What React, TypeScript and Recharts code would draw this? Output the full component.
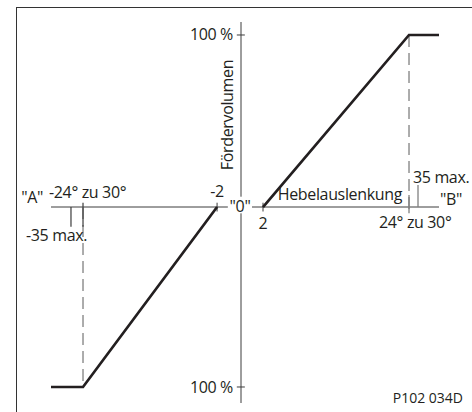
import React from "react";
import { LineChart, Line, XAxis, YAxis, ReferenceLine, ReferenceDot } from "recharts";

// lever deflection (deg) vs delivery volume (%)
const leftBranch = [
    { x: -40, y: -100 },
    { x: -24, y: -100 },
    { x: -2, y: 0 },
];
const rightBranch = [
    { x: 2, y: 0 },
    { x: 24, y: 100 },
    { x: 40, y: 100 },
];

// the drawing is not to scale: breakpoints of the x and y axes and where they sit (0..1)
const xStops = [-40, -35, -24, -2, 0, 2, 24, 35, 40];
const xFrac = [0, 0.0515, 0.0825, 0.428, 0.4897, 0.5464, 0.9227, 0.9459, 1];
const yStops = [-110, -100, 0, 100, 110];
const yFrac = [0, 0.042, 0.5144, 0.9659, 1];

const ink = "#231f20";
const axisGrey = "#3c3c3c";
const dashGrey = "#808080";
const font = "'Open Sans', sans-serif";

function piecewiseScale(stops: number[], frac: number[]) {
    const make = (d0: number[], r0: number[]) => {
        let dom = d0;
        let rng = r0;
        const f: any = (v: number) => {
            let i = 0;
            while (i < stops.length - 2 && v > stops[i + 1]) i++;
            const t = frac[i] + ((v - stops[i]) / (stops[i + 1] - stops[i])) * (frac[i + 1] - frac[i]);
            return rng[0] + t * (rng[1] - rng[0]);
        };
        f.domain = (d?: number[]) => {
            if (d === undefined) return dom;
            dom = d;
            return f;
        };
        f.range = (r?: number[]) => {
            if (r === undefined) return rng;
            rng = r;
            return f;
        };
        f.copy = () => make(dom, rng);
        f.ticks = () => stops;
        f.tickFormat = () => (v: number) => String(v);
        return f;
    };
    return make([stops[0], stops[stops.length - 1]], [0, 1]);
}

const xScale = piecewiseScale(xStops, xFrac);
const yScale = piecewiseScale(yStops, yFrac);

const note =
    (text: string, dx: number, dy: number, anchor: string = "start", size = 16, rotate = false) =>
    (p: any) => {
        const x = p.viewBox.x + dx;
        const y = p.viewBox.y + dy;
        return (
            <text
                x={x}
                y={y}
                textAnchor={anchor}
                fontFamily={font}
                fontSize={size}
                letterSpacing={size > 15 ? -0.35 : 0}
                fill={ink}
                transform={rotate ? `rotate(-90, ${x}, ${y})` : undefined}
            >
                {text}
            </text>
        );
    };

const seg = (x1: number, y1: number, x2: number, y2: number, color = axisGrey, w = 1, dash?: string) => (
    <ReferenceLine
        segment={[{ x: x1, y: y1 }, { x: x2, y: y2 }]}
        stroke={color}
        strokeWidth={w}
        strokeDasharray={dash}
        ifOverflow="visible"
    />
);

const dot = (x: number, y: number, label: any) => (
    <ReferenceDot x={x} y={y} r={0} fill="none" stroke="none" ifOverflow="visible" label={label} />
);

export default function App() {
    return (
        <div style={{ position: "absolute", left: 0, top: 0, width: 472, height: 412 }}>
            <div
                style={{
                    position: "absolute",
                    left: 16,
                    top: 7,
                    width: 456,
                    height: 405,
                    borderTop: "1.4px solid #333",
                    borderLeft: "1.4px solid #333",
                }}
            />
            <LineChart width={472} height={412} margin={{ top: 22, right: 33, bottom: 9, left: 51 }}>
                <XAxis type="number" dataKey="x" domain={[-40, 40]} scale={xScale} hide />
                <YAxis type="number" dataKey="y" domain={[-110, 110]} scale={yScale} hide />

                {/* axes, broken around the "0" */}
                {seg(-40, 0, -1.1, 0)}
                {seg(1.0, 0, 40, 0)}
                {seg(0, 110, 0, 6)}
                {seg(0, -3.5, 0, -110)}
                {seg(-0.35, 100, 0.35, 100)}
                {seg(-0.35, -100, 0.35, -100)}
                {seg(-2, 2.5, -2, -2.5)}
                {seg(2, 2.5, 2, -2.5)}

                {/* stops */}
                {seg(24, 100, 24, -3.5, dashGrey, 1.3, "12 6")}
                {seg(24, 7, 24, -3.5, dashGrey, 1.3)}
                {seg(35, 12.8, 35, 0, dashGrey, 1.3)}
                {seg(-24, 0, -24, -100, dashGrey, 1.3, "12 6")}
                {seg(-24, 2.5, -24, -11, axisGrey, 1.2)}
                {seg(-35, 0, -35, -11, axisGrey, 1.2)}

                <Line data={leftBranch} dataKey="y" stroke={ink} strokeWidth={2.7} dot={false} isAnimationActive={false} />
                <Line data={rightBranch} dataKey="y" stroke={ink} strokeWidth={2.7} dot={false} isAnimationActive={false} />

                {dot(0, 100, note("100 %", -8, 5, "end"))}
                {dot(0, -100, note("100 %", -8, 6, "end"))}
                {dot(0, 53.5, note("Fördervolumen", -8, 0, "middle", 16, true))}
                {dot(-40, 0, note('"A"', -8, -4, "end"))}
                {dot(-24, 0, note("-24° zu 30°", -34, -9))}
                {dot(-35, 0, note("-35 max.", -45, 34))}
                {dot(-2, 0, note("-2", 0, -10, "middle"))}
                {dot(0, 0, note('"0"', -1, 5, "middle"))}
                {dot(2, 0, note("2", 0, 22, "middle"))}
                {dot(24, 0, note("Hebelauslenkung", -7, -7, "end"))}
                {dot(35, 0, note("35 max.", -5, -24))}
                {dot(40, 0, note('"B"', 1, -2))}
                {dot(24, 0, note("24° zu 30°", -30, 21))}
                {dot(40, -110, note("P102 034D", 24, 0, "end", 14))}
            </LineChart>
        </div>
    );
}
